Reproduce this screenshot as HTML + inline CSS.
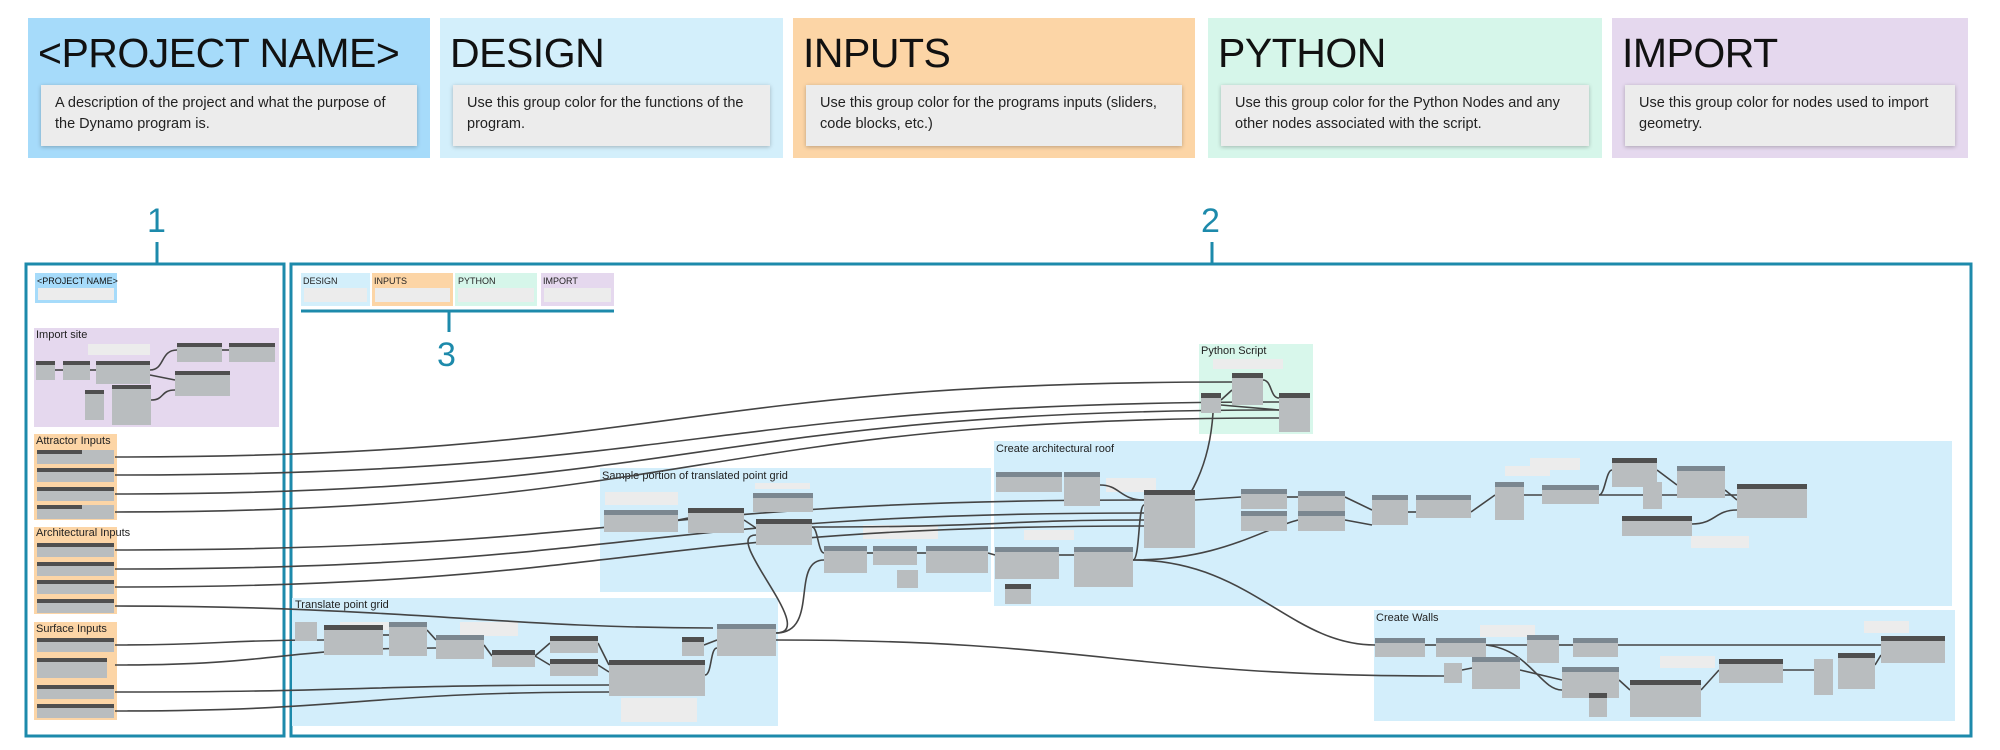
<!DOCTYPE html>
<html><head><meta charset="utf-8"><style>
body{margin:0;width:2000px;height:750px;background:#fff;overflow:hidden;font-family:"Liberation Sans",sans-serif;position:relative}
.h{position:absolute;top:18px;height:140px}
.h .t{position:absolute;left:10px;top:12px;font-size:41px;color:#111;letter-spacing:-0.5px;white-space:nowrap}
.h .d{position:absolute;left:13px;right:13px;top:67px;height:61px;background:#ececec;box-shadow:0 1px 4px rgba(0,0,0,.25);font-size:14.5px;line-height:21px;color:#222;padding:8px 0 0 14px;box-sizing:border-box}
</style></head><body>
<div class="h" style="left:28px;width:402px;background:#a6dbfa"><div class="t">&lt;PROJECT NAME&gt;</div><div class="d">A description of the project and what the purpose of<br>the Dynamo program is.</div></div>
<div class="h" style="left:440px;width:343px;background:#d3effb"><div class="t">DESIGN</div><div class="d">Use this group color for the functions of the<br>program.</div></div>
<div class="h" style="left:793px;width:402px;background:#fcd5a6"><div class="t">INPUTS</div><div class="d">Use this group color for the programs inputs (sliders,<br>code blocks, etc.)</div></div>
<div class="h" style="left:1208px;width:394px;background:#d6f6ea"><div class="t">PYTHON</div><div class="d">Use this group color for the Python Nodes and any<br>other nodes associated with the script.</div></div>
<div class="h" style="left:1612px;width:356px;background:#e5d8ee"><div class="t">IMPORT</div><div class="d">Use this group color for nodes used to import<br>geometry.</div></div>

<svg width="2000" height="750" style="position:absolute;left:0;top:0" font-family="Liberation Sans, sans-serif">
<g fill="#1d8aab" font-size="34">
<text x="147" y="232">1</text><text x="1201" y="232">2</text><text x="437" y="366">3</text>
</g>
<g stroke="#1d8aab" stroke-width="3" fill="none">
<rect x="26" y="264" width="258" height="472"/>
<rect x="291" y="264" width="1680" height="472"/>
<line x1="157" y1="242" x2="157" y2="264"/><line x1="1212" y1="242" x2="1212" y2="264"/>
<line x1="301" y1="311" x2="614" y2="311"/><line x1="449" y1="311" x2="449" y2="332"/>
</g>
<!-- legend in frame 2 -->
<g font-size="9">
<rect x="301" y="273" width="69" height="33" fill="#d3effb"/><rect x="372" y="273" width="81" height="33" fill="#fcd5a6"/>
<rect x="455" y="273" width="82" height="33" fill="#d6f6ea"/><rect x="541" y="273" width="73" height="33" fill="#e5d8ee"/>
<g fill="#ececec"><rect x="304" y="288" width="63" height="14"/><rect x="375" y="288" width="75" height="14"/><rect x="458" y="288" width="76" height="14"/><rect x="544" y="288" width="67" height="14"/></g>
<g fill="#222"><text x="303" y="284">DESIGN</text><text x="374" y="284">INPUTS</text><text x="458" y="284">PYTHON</text><text x="543" y="284">IMPORT</text></g>
</g>
<!-- groups -->
<g>
<rect x="35" y="273" width="82" height="30" fill="#a6dbfa"/><rect x="38" y="288" width="76" height="12" fill="#ececec"/>
<text x="37" y="284" font-size="9" fill="#111">&lt;PROJECT NAME&gt;</text>
<rect x="34" y="328" width="245" height="99" fill="#e5d8ee"/>
<rect x="34" y="434" width="83" height="86" fill="#fcd5a6"/>
<rect x="34" y="527" width="83" height="87" fill="#fcd5a6"/>
<rect x="34" y="622" width="83" height="98" fill="#fcd5a6"/>
<rect x="1199" y="344" width="114" height="90" fill="#d8f7eb"/>
<rect x="994" y="441" width="958" height="165" fill="#d3eefb"/>
<rect x="600" y="468" width="391" height="124" fill="#d3eefb"/>
<rect x="292" y="598" width="486" height="128" fill="#d3eefb"/>
<rect x="1374" y="610" width="581" height="111" fill="#d3eefb"/>
</g>
<g font-size="11" fill="#222">
<text x="36" y="338">Import site</text><text x="36" y="444">Attractor Inputs</text><text x="36" y="536">Architectural Inputs</text><text x="36" y="632">Surface Inputs</text>
<text x="1201" y="354">Python Script</text><text x="996" y="452">Create architectural roof</text><text x="602" y="479">Sample portion of translated point grid</text>
<text x="295" y="608">Translate point grid</text><text x="1376" y="621">Create Walls</text>
</g>
<!-- notes -->
<g fill="#ececec">
<rect x="88" y="344" width="62" height="11"/><rect x="1213" y="359" width="70" height="10"/><rect x="605" y="492" width="73" height="13"/>
<rect x="755" y="483" width="55" height="6"/><rect x="863" y="525" width="75" height="14"/><rect x="621" y="698" width="76" height="24"/>
<rect x="1106" y="478" width="50" height="14"/><rect x="1530" y="458" width="50" height="12"/><rect x="1505" y="466" width="45" height="10"/>
<rect x="1691" y="536" width="58" height="12"/><rect x="1024" y="530" width="50" height="10"/><rect x="1480" y="625" width="55" height="12"/>
<rect x="1660" y="656" width="55" height="12"/><rect x="1864" y="621" width="45" height="12"/><rect x="340" y="622" width="55" height="8"/><rect x="460" y="622" width="58" height="14"/>
</g>
<!-- wires -->
<g fill="none" stroke="#444" stroke-width="1.6">
<path d="M115,457 C673,457 673,382 1232,382"/>
<path d="M115,475 C700,475 700,402 1279,402"/>
<path d="M115,494 C700,494 700,410 1279,410"/>
<path d="M115,512 C700,512 700,418 1279,418"/>
<path d="M1221,400 L1232,390"/><path d="M1221,405 L1279,410"/>
<path d="M1263,380 C1272,380 1270,398 1279,398"/>
<path d="M115,550 C630,550 630,500 1144,500"/>
<path d="M115,569 C630,569 630,513 1144,513"/>
<path d="M115,587 C630,587 630,526 1144,526"/>
<path d="M115,606 C400,606 500,628 713,628"/>
<path d="M115,645 C220,645 220,640 324,640"/>
<path d="M115,665 C280,665 280,648 436,648"/>
<path d="M115,692 C360,692 360,685 609,685"/>
<path d="M115,711 C360,711 360,692 609,692"/>
<path d="M776,633 C820,633 720,535 756,535"/>
<path d="M776,633 C820,633 790,560 824,560"/>
<path d="M776,640 C1100,640 1120,676 1444,676"/>
<path d="M812,527 C818,527 818,553 824,553"/>
<path d="M812,527 C1000,527 1000,520 1144,520"/>
<path d="M867,553 L873,553"/><path d="M917,553 L926,553"/><path d="M988,553 L995,555"/><path d="M1059,555 L1074,555"/>
<path d="M1133,560 C1140,560 1138,505 1144,505"/>
<path d="M1133,560 C1220,560 1260,530 1298,520"/>
<path d="M1133,560 C1250,560 1290,645 1375,645"/>
<path d="M1213,413 C1210,460 1195,500 1150,545"/>
<path d="M1195,500 L1241,497"/><path d="M1287,497 L1298,497"/><path d="M1345,497 L1372,510"/><path d="M1345,520 L1372,525"/>
<path d="M1408,512 L1416,512"/><path d="M1471,512 L1495,495"/><path d="M1524,495 L1542,495"/><path d="M1599,495 C1605,495 1606,470 1612,470"/>
<path d="M1599,495 L1737,495"/><path d="M1657,470 L1677,485"/><path d="M1725,490 L1737,500"/><path d="M1692,524 C1715,524 1715,510 1737,510"/>
<path d="M1100,485 C1120,485 1120,500 1144,500"/>
<path d="M1425,645 L1436,645"/><path d="M1486,645 L1527,645"/><path d="M1559,645 L1573,645"/><path d="M1618,645 L1881,645"/>
<path d="M1462,670 L1472,668"/><path d="M1520,670 L1562,680"/><path d="M1619,680 L1630,690"/><path d="M1701,690 L1719,670"/><path d="M1783,670 L1814,670"/><path d="M1875,665 L1881,655"/>
<path d="M1486,645 C1530,650 1540,690 1562,690"/>
<path d="M150,370 C165,370 160,350 177,350"/><path d="M150,375 L175,380"/><path d="M151,400 C165,400 160,390 175,390"/><path d="M222,350 L229,350"/>
<path d="M55,370 L63,370"/><path d="M90,370 L96,370"/>
<path d="M383,635 L389,635"/><path d="M427,630 L436,640"/><path d="M484,645 L492,656"/><path d="M535,656 L550,643"/><path d="M535,656 L550,665"/><path d="M598,643 L609,665"/><path d="M598,665 L609,672"/>
<path d="M705,675 C712,675 710,648 717,648"/><path d="M704,645 L717,640"/>
<path d="M744,520 L756,528"/><path d="M678,520 L688,518"/>
</g>
<!-- nodes -->
<g id="nodes">
<g fill="#b9bdbf">
<rect x="36" y="361" width="19" height="19"/><rect x="63" y="361" width="27" height="19"/><rect x="96" y="361" width="54" height="23"/>
<rect x="177" y="343" width="45" height="19"/><rect x="229" y="343" width="46" height="19"/><rect x="175" y="371" width="55" height="25"/>
<rect x="85" y="390" width="19" height="30"/><rect x="112" y="385" width="39" height="40"/>
<rect x="37" y="450" width="77" height="14"/><rect x="37" y="468" width="77" height="14"/><rect x="37" y="487" width="77" height="14"/><rect x="37" y="505" width="77" height="14"/>
<rect x="37" y="543" width="77" height="14"/><rect x="37" y="562" width="77" height="14"/><rect x="37" y="580" width="77" height="14"/><rect x="37" y="599" width="77" height="14"/>
<rect x="37" y="638" width="77" height="14"/><rect x="37" y="658" width="70" height="20"/><rect x="37" y="685" width="77" height="14"/><rect x="37" y="704" width="77" height="14"/>
<rect x="1232" y="373" width="31" height="32"/><rect x="1201" y="393" width="20" height="20"/><rect x="1279" y="393" width="31" height="39"/>
<rect x="604" y="510" width="74" height="22"/><rect x="688" y="508" width="56" height="25"/><rect x="753" y="493" width="60" height="19"/><rect x="756" y="519" width="56" height="26"/>
<rect x="824" y="546" width="43" height="27"/><rect x="873" y="546" width="44" height="19"/><rect x="897" y="570" width="21" height="18"/><rect x="926" y="546" width="62" height="27"/>
<rect x="995" y="547" width="64" height="32"/><rect x="1074" y="547" width="59" height="40"/><rect x="1005" y="584" width="26" height="20"/>
<rect x="996" y="472" width="66" height="20"/><rect x="1064" y="472" width="36" height="34"/><rect x="1144" y="490" width="51" height="58"/>
<rect x="1241" y="489" width="46" height="20"/><rect x="1298" y="491" width="47" height="20"/><rect x="1241" y="511" width="46" height="20"/><rect x="1298" y="511" width="47" height="20"/>
<rect x="1372" y="495" width="36" height="30"/><rect x="1416" y="495" width="55" height="23"/><rect x="1495" y="482" width="29" height="38"/><rect x="1542" y="485" width="57" height="19"/>
<rect x="1612" y="458" width="45" height="29"/><rect x="1643" y="482" width="19" height="27"/><rect x="1677" y="466" width="48" height="32"/><rect x="1737" y="484" width="70" height="34"/><rect x="1622" y="516" width="70" height="20"/>
<rect x="295" y="622" width="22" height="19"/><rect x="324" y="625" width="59" height="30"/><rect x="389" y="622" width="38" height="34"/><rect x="436" y="635" width="48" height="24"/>
<rect x="492" y="650" width="43" height="17"/><rect x="550" y="636" width="48" height="17"/><rect x="550" y="659" width="48" height="17"/><rect x="609" y="660" width="96" height="36"/>
<rect x="717" y="624" width="59" height="32"/><rect x="682" y="637" width="22" height="19"/>
<rect x="1375" y="638" width="50" height="19"/><rect x="1436" y="638" width="50" height="19"/><rect x="1527" y="635" width="32" height="28"/><rect x="1573" y="638" width="45" height="19"/>
<rect x="1881" y="636" width="64" height="27"/><rect x="1444" y="663" width="18" height="20"/><rect x="1472" y="657" width="48" height="32"/><rect x="1562" y="667" width="57" height="31"/>
<rect x="1630" y="680" width="71" height="37"/><rect x="1589" y="693" width="18" height="24"/><rect x="1719" y="659" width="64" height="24"/><rect x="1814" y="659" width="19" height="36"/><rect x="1838" y="653" width="37" height="36"/>
</g>
<g fill="#4f4f4f">
<rect x="36" y="361" width="19" height="4"/><rect x="63" y="361" width="27" height="4"/><rect x="96" y="361" width="54" height="4"/>
<rect x="177" y="343" width="45" height="4"/><rect x="229" y="343" width="46" height="4"/><rect x="175" y="371" width="55" height="4"/>
<rect x="85" y="390" width="19" height="4"/><rect x="112" y="385" width="39" height="4"/>
<rect x="37" y="450" width="45" height="4"/><rect x="37" y="468" width="77" height="4"/><rect x="37" y="487" width="77" height="4"/><rect x="37" y="505" width="45" height="4"/>
<rect x="37" y="543" width="77" height="4"/><rect x="37" y="562" width="77" height="4"/><rect x="37" y="580" width="77" height="4"/><rect x="37" y="599" width="77" height="4"/>
<rect x="37" y="638" width="77" height="4"/><rect x="37" y="658" width="70" height="4"/><rect x="37" y="685" width="77" height="4"/><rect x="37" y="704" width="77" height="4"/>
<rect x="1232" y="373" width="31" height="5"/><rect x="1201" y="393" width="20" height="5"/><rect x="1279" y="393" width="31" height="5"/>
<rect x="688" y="508" width="56" height="5"/><rect x="756" y="519" width="56" height="5"/>
<rect x="1144" y="490" width="51" height="5"/><rect x="1612" y="458" width="45" height="5"/><rect x="1737" y="484" width="70" height="5"/><rect x="1622" y="516" width="70" height="5"/>
<rect x="324" y="625" width="59" height="5"/><rect x="492" y="650" width="43" height="5"/><rect x="550" y="636" width="48" height="5"/><rect x="550" y="659" width="48" height="5"/><rect x="609" y="660" width="96" height="5"/>
<rect x="1881" y="636" width="64" height="5"/><rect x="1630" y="680" width="71" height="5"/><rect x="1719" y="659" width="64" height="5"/><rect x="1838" y="653" width="37" height="5"/><rect x="1005" y="584" width="26" height="5"/><rect x="682" y="637" width="22" height="5"/><rect x="1589" y="693" width="18" height="5"/>
</g>
<g fill="#7b8790">
<rect x="604" y="510" width="74" height="5"/><rect x="753" y="493" width="60" height="5"/><rect x="824" y="546" width="43" height="5"/><rect x="873" y="546" width="44" height="5"/><rect x="926" y="546" width="62" height="5"/>
<rect x="995" y="547" width="64" height="5"/><rect x="1074" y="547" width="59" height="5"/><rect x="996" y="472" width="66" height="5"/><rect x="1064" y="472" width="36" height="5"/>
<rect x="1241" y="489" width="46" height="5"/><rect x="1298" y="491" width="47" height="5"/><rect x="1241" y="511" width="46" height="5"/><rect x="1298" y="511" width="47" height="5"/>
<rect x="1372" y="495" width="36" height="5"/><rect x="1416" y="495" width="55" height="5"/><rect x="1495" y="482" width="29" height="5"/><rect x="1542" y="485" width="57" height="5"/><rect x="1677" y="466" width="48" height="5"/>
<rect x="389" y="622" width="38" height="5"/><rect x="436" y="635" width="48" height="5"/><rect x="717" y="624" width="59" height="5"/>
<rect x="1375" y="638" width="50" height="5"/><rect x="1436" y="638" width="50" height="5"/><rect x="1527" y="635" width="32" height="5"/><rect x="1573" y="638" width="45" height="5"/><rect x="1472" y="657" width="48" height="5"/><rect x="1562" y="667" width="57" height="5"/>
</g>
</g>
</svg>
</body></html>
